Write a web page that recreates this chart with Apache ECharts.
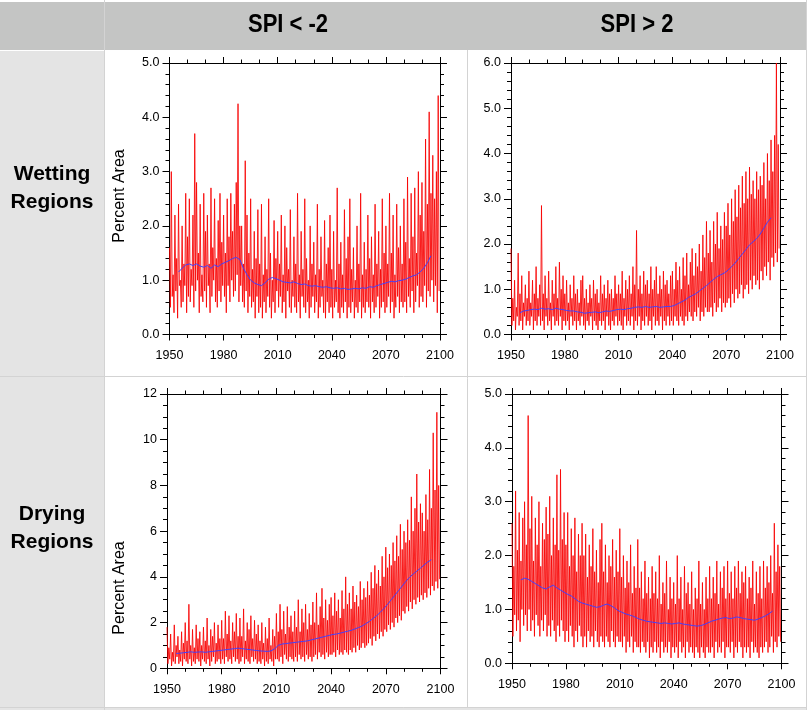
<!DOCTYPE html>
<html>
<head>
<meta charset="utf-8">
<script src="https://cdn.jsdelivr.net/npm/echarts@6/dist/echarts.min.js"></script>
<style>
html,body{margin:0;padding:0;background:#fff;}
#c{width:807px;height:710px;}
</style>
</head>
<body>
<div id="c"></div>
<script>
// ---------------- DATA ----------------
const columnTitles = ['SPI < -2', 'SPI > 2'];
const rowTitles = ['Wetting\nRegions', 'Drying\nRegions'];
const yTitle = 'Percent Area';
const xTicks = [1950, 1980, 2010, 2040, 2070, 2100];
const redStart = 1950, redStep = 0.5;   // semi-annual samples
const meanStart = 1955, meanStep = 2;   // running-mean samples

// Wetting regions, SPI < -2 (percent area)
const wetDryRed = [
1.6,0.5,3.0,0.7,1.1,0.4,2.2,0.8,1.4,0.3,2.4,0.9,1.0,0.5,2.0,0.6,1.3,0.9,2.6,0.4,
1.8,0.7,2.5,0.6,1.2,0.9,2.2,0.5,3.7,0.8,2.8,1.0,1.5,0.4,2.4,0.7,1.1,0.6,2.6,0.8,
1.9,0.5,2.2,0.9,1.3,0.4,2.7,0.7,1.6,1.0,2.5,0.6,1.4,0.5,2.1,0.8,2.6,0.6,1.7,0.9,
2.2,0.7,1.5,0.4,2.5,0.9,1.8,0.6,2.6,1.0,1.9,0.7,2.4,0.8,2.8,1.1,4.25,0.6,2.0,0.9,
2.0,0.6,1.3,0.5,3.2,0.8,2.2,0.4,1.5,0.7,2.5,0.5,1.2,0.6,1.9,0.3,1.4,0.7,2.3,0.4,
1.3,0.5,2.4,0.3,1.1,0.6,1.8,0.4,1.2,0.7,2.5,0.5,1.5,0.3,1.0,0.6,2.1,0.4,1.4,0.8,
1.9,0.5,1.3,0.7,2.2,0.4,1.1,0.6,2.0,0.3,1.6,0.8,1.2,0.5,2.3,0.4,1.0,0.7,1.8,0.5,
1.3,0.4,2.6,0.6,1.1,0.3,1.9,0.7,1.2,0.5,2.5,0.4,1.4,0.6,1.0,0.3,2.0,0.5,1.3,0.7,
1.7,0.4,1.1,0.6,2.4,0.3,1.2,0.5,1.8,0.7,1.0,0.4,2.1,0.3,1.3,0.6,1.6,0.4,2.2,0.5,
1.2,0.3,1.9,0.5,1.0,0.6,2.7,0.4,1.3,0.3,1.7,0.5,1.1,0.4,2.3,0.6,1.4,0.3,1.8,0.5,
2.5,0.4,1.2,0.6,1.6,0.3,1.0,0.5,2.0,0.4,1.3,0.6,2.6,0.3,1.1,0.5,1.7,0.4,1.2,0.6,
2.2,0.5,1.4,0.3,1.8,0.6,1.1,0.4,2.4,0.5,1.3,0.7,1.9,0.3,1.2,0.5,2.5,0.6,1.5,0.4,
2.0,0.5,1.3,0.7,2.6,0.4,1.5,0.6,2.2,0.3,1.1,0.5,2.4,0.7,1.6,0.4,2.0,0.6,1.3,0.5,
2.5,0.6,1.7,0.4,2.9,0.7,1.4,0.5,2.6,0.8,1.8,0.4,2.7,0.6,1.5,0.9,3.0,0.5,2.2,0.7,
2.8,0.6,1.9,0.9,3.6,0.5,2.4,0.8,4.1,0.7,2.6,1.0,3.3,0.6,2.5,0.9,3.0,0.4,4.4,0.8
];
const wetDryMean = [
1.15,1.22,1.28,1.30,1.27,1.30,1.26,1.24,1.27,1.22,1.28,1.25,1.30,1.33,1.36,1.40,1.42,1.38,
1.22,1.10,1.00,0.95,0.92,0.90,0.95,1.02,1.05,1.03,1.00,0.97,0.96,0.95,0.97,0.94,0.92,0.93,
0.90,0.89,0.90,0.88,0.87,0.88,0.86,0.85,0.86,0.84,0.85,0.83,0.84,0.85,0.84,0.86,0.85,0.88,
0.87,0.90,0.92,0.94,0.96,0.98,0.97,0.99,1.00,1.02,1.05,1.08,1.10,1.15,1.22,1.32,1.45
];

// Wetting regions, SPI > 2
const wetWetRed = [
1.9,0.2,0.8,0.3,1.2,0.1,0.6,0.4,1.8,0.2,0.9,0.3,1.3,0.1,0.7,0.4,1.1,0.2,0.8,0.3,
1.4,0.2,0.7,0.4,1.2,0.1,0.9,0.3,1.5,0.2,0.8,0.4,1.1,0.2,2.85,0.3,0.9,0.1,1.3,0.4,
0.8,0.2,1.4,0.3,0.7,0.1,1.2,0.4,0.9,0.2,1.5,0.3,0.8,0.2,1.6,0.4,1.0,0.1,1.3,0.3,
0.9,0.2,1.2,0.3,0.7,0.1,1.1,0.4,0.8,0.2,1.3,0.3,0.9,0.1,1.0,0.3,0.7,0.2,1.2,0.4,
1.3,0.2,0.8,0.1,1.0,0.3,0.7,0.2,1.1,0.4,0.8,0.1,1.2,0.3,0.9,0.2,1.0,0.1,0.7,0.3,
1.3,0.2,0.9,0.3,1.1,0.1,0.8,0.4,1.2,0.2,0.9,0.1,1.0,0.3,0.8,0.2,1.3,0.4,0.9,0.2,
1.1,0.3,0.9,0.2,1.4,0.1,0.8,0.4,1.2,0.2,1.0,0.3,1.3,0.2,0.9,0.4,1.5,0.1,1.1,0.3,
2.3,0.2,1.0,0.4,1.3,0.1,0.9,0.3,1.4,0.2,1.1,0.4,1.2,0.2,0.9,0.3,1.5,0.1,1.0,0.4,
1.2,0.2,1.5,0.3,0.9,0.2,1.3,0.4,1.0,0.1,1.4,0.3,1.1,0.2,1.2,0.4,0.9,0.2,1.3,0.3,
1.4,0.2,1.0,0.4,1.6,0.3,1.2,0.2,1.5,0.4,1.0,0.3,1.7,0.2,1.3,0.4,1.8,0.3,1.1,0.5,
1.6,0.4,1.9,0.3,1.3,0.5,1.8,0.4,1.5,0.6,2.0,0.3,1.4,0.5,2.2,0.4,1.7,0.6,2.5,0.5,
1.8,0.5,2.3,0.6,1.6,0.4,2.5,0.7,2.0,0.5,2.7,0.6,1.9,0.8,2.4,0.5,2.1,0.7,2.7,0.6,
2.4,0.7,2.9,0.8,2.2,0.6,3.0,0.9,2.5,0.7,3.2,1.0,2.6,0.8,3.3,0.9,2.8,1.1,3.5,0.8,
2.9,1.0,3.6,1.1,3.0,0.9,3.7,1.2,3.1,1.0,3.4,1.3,3.0,1.1,3.6,1.2,3.2,1.0,3.5,1.4,
3.3,1.2,3.8,1.5,3.0,1.3,4.0,1.6,3.4,1.2,4.3,1.7,3.6,1.5,4.4,1.8,6.0,1.6,4.2,1.9
];
const wetWetMean = [
0.48,0.52,0.53,0.55,0.56,0.55,0.58,0.56,0.57,0.55,0.58,0.56,0.55,0.53,0.52,0.52,0.50,0.49,
0.47,0.48,0.49,0.50,0.48,0.50,0.52,0.51,0.53,0.55,0.56,0.55,0.57,0.58,0.60,0.61,0.60,0.62,
0.60,0.61,0.62,0.60,0.61,0.62,0.62,0.64,0.68,0.72,0.76,0.82,0.86,0.90,0.96,1.02,1.08,1.15,
1.22,1.28,1.32,1.36,1.42,1.50,1.58,1.68,1.78,1.88,1.98,2.05,2.12,2.22,2.35,2.48,2.58
];

// Drying regions, SPI < -2
const dryDryRed = [
1.8,0.2,0.9,0.4,1.5,0.1,0.7,0.3,1.9,0.2,1.0,0.5,1.4,0.2,0.8,0.3,1.6,0.1,1.1,0.4,
2.0,0.3,1.2,0.2,2.8,0.4,1.0,0.1,1.7,0.3,0.9,0.2,1.9,0.4,1.3,0.3,1.6,0.1,1.0,0.4,
1.8,0.3,1.2,0.2,2.2,0.4,1.0,0.1,1.7,0.3,1.4,0.5,2.0,0.2,1.1,0.3,1.9,0.4,1.3,0.2,
2.1,0.4,1.3,0.2,2.5,0.5,1.5,0.3,2.3,0.4,1.2,0.2,2.0,0.5,1.6,0.3,2.4,0.4,1.4,0.2,
2.2,0.3,1.4,0.5,2.6,0.2,1.2,0.4,2.0,0.3,1.7,0.2,2.3,0.5,1.3,0.3,2.1,0.4,1.5,0.2,
1.9,0.3,1.2,0.2,2.0,0.4,1.1,0.1,1.8,0.3,1.3,0.2,2.2,0.4,1.0,0.3,1.7,0.1,1.4,0.4,
2.4,0.4,1.6,0.3,2.8,0.5,1.7,0.2,2.5,0.6,1.5,0.4,2.7,0.3,1.8,0.5,2.3,0.4,1.6,0.3,
2.5,0.5,1.8,0.3,3.0,0.6,1.6,0.4,2.6,0.5,2.0,0.3,2.8,0.6,1.7,0.4,2.4,0.5,1.9,0.3,
2.9,0.5,2.0,0.6,3.3,0.4,1.9,0.7,2.7,0.5,3.5,0.6,2.2,0.4,3.0,0.7,2.1,0.5,2.8,0.6,
3.1,0.6,2.3,0.7,3.3,0.5,2.5,0.8,3.0,0.6,2.2,0.7,3.4,0.6,2.6,0.8,4.0,0.7,2.8,0.6,
3.3,0.8,2.6,0.7,3.6,0.9,2.9,0.7,3.2,1.0,2.7,0.8,3.8,0.9,3.0,1.1,3.5,0.9,3.1,1.0,
3.8,1.1,3.2,1.3,4.2,1.0,3.5,1.4,4.5,1.2,3.7,1.5,4.3,1.3,3.6,1.6,4.9,1.4,4.0,1.7,
5.3,1.6,4.4,1.9,5.0,1.7,4.5,2.0,5.5,1.8,4.7,2.2,5.8,2.0,4.9,2.3,6.3,2.1,5.2,2.5,
6.0,2.4,5.5,2.7,6.5,2.5,5.6,2.9,7.5,2.6,6.0,3.0,7.0,2.8,8.5,3.1,6.4,2.9,7.2,3.2,
6.8,3.0,6.0,3.3,7.6,3.1,6.5,3.5,8.7,3.2,7.0,3.6,10.3,3.4,7.8,3.8,11.2,3.5,8.0,3.9
];
const dryDryMean = [
0.65,0.66,0.68,0.70,0.72,0.70,0.71,0.72,0.70,0.72,0.74,0.76,0.78,0.80,0.82,0.84,0.86,0.88,
0.86,0.84,0.82,0.80,0.78,0.76,0.75,0.74,0.76,0.85,1.00,1.06,1.08,1.10,1.12,1.14,1.16,1.18,
1.20,1.24,1.28,1.32,1.36,1.40,1.44,1.48,1.50,1.54,1.58,1.62,1.66,1.72,1.78,1.85,1.95,2.05,
2.18,2.30,2.45,2.62,2.80,3.00,3.20,3.40,3.60,3.80,3.98,4.12,4.25,4.38,4.52,4.65,4.75
];

// Drying regions, SPI > 2
const dryWetRed = [
2.6,0.5,1.8,0.9,3.2,0.6,2.1,0.8,2.8,0.4,1.9,1.0,2.7,0.7,3.0,0.9,2.2,0.6,4.6,1.0,
2.5,0.6,3.1,0.8,1.9,0.5,2.7,0.9,2.2,0.7,3.0,0.5,1.8,0.8,2.6,0.6,2.3,0.9,2.9,0.5,
2.4,0.7,3.1,0.5,2.0,0.8,2.7,0.6,2.2,0.4,3.5,0.7,2.1,0.5,3.6,0.8,2.3,0.6,2.8,0.4,
2.2,0.6,2.8,0.4,1.8,0.7,2.5,0.5,2.0,0.3,2.7,0.6,1.7,0.4,2.4,0.7,2.0,0.5,2.6,0.3,
2.0,0.5,2.4,0.3,1.6,0.6,2.2,0.4,1.8,0.5,2.5,0.3,1.7,0.6,2.1,0.4,1.5,0.3,2.3,0.5,
2.6,0.4,1.7,0.3,2.2,0.5,1.5,0.4,2.0,0.3,1.8,0.6,2.3,0.4,1.6,0.3,2.1,0.5,1.7,0.4,
2.5,0.4,1.6,0.3,2.0,0.5,1.4,0.2,1.9,0.4,1.5,0.3,2.2,0.5,1.3,0.2,1.8,0.4,1.4,0.3,
2.3,0.3,1.4,0.2,1.7,0.4,1.2,0.3,1.9,0.2,1.3,0.4,1.6,0.1,1.2,0.3,1.8,0.2,1.3,0.4,
1.7,0.2,1.2,0.3,2.0,0.1,1.1,0.4,1.5,0.2,1.3,0.3,1.9,0.2,1.0,0.4,1.6,0.1,1.2,0.3,
1.5,0.2,1.1,0.3,2.0,0.1,1.2,0.4,1.6,0.2,1.0,0.3,1.8,0.1,1.3,0.4,1.5,0.2,1.1,0.3,
1.7,0.2,1.0,0.1,1.4,0.3,1.2,0.2,1.9,0.1,1.1,0.3,1.5,0.2,1.0,0.1,1.6,0.3,1.2,0.2,
1.8,0.2,1.2,0.3,1.6,0.1,1.3,0.4,1.9,0.2,1.1,0.3,1.7,0.2,1.4,0.4,1.8,0.1,1.2,0.3,
1.9,0.3,1.3,0.2,1.7,0.4,1.2,0.1,1.8,0.3,1.4,0.2,1.9,0.4,1.3,0.3,1.7,0.1,1.5,0.3,
1.8,0.2,1.2,0.3,1.6,0.1,1.4,0.4,1.9,0.2,1.1,0.3,1.7,0.2,1.3,0.1,1.8,0.3,1.2,0.2,
1.9,0.3,1.4,0.4,1.8,0.2,1.5,0.3,2.0,0.5,1.3,0.2,2.6,0.4,1.7,0.3,2.2,0.5,1.8,0.4
];
const dryWetMean = [
1.55,1.58,1.56,1.52,1.48,1.44,1.40,1.38,1.42,1.45,1.40,1.36,1.32,1.28,1.25,1.20,1.15,1.12,
1.10,1.08,1.06,1.04,1.05,1.08,1.10,1.07,1.03,0.98,0.95,0.92,0.90,0.88,0.85,0.82,0.80,0.78,
0.77,0.76,0.75,0.74,0.75,0.74,0.73,0.74,0.75,0.73,0.72,0.71,0.70,0.69,0.70,0.72,0.75,0.78,
0.80,0.82,0.84,0.85,0.83,0.84,0.86,0.85,0.83,0.82,0.81,0.80,0.82,0.85,0.88,0.92,0.97
];

// y-axis ranges per panel
const yMax = [5, 6, 12, 5];
const yStep = [1, 1, 2, 1];
const yMinor = [5, 5, 4, 5];
const yDecimals = [1, 1, 0, 1];

// ---------------- LAYOUT ----------------
const FONT = '"Liberation Sans", Arial, Helvetica, sans-serif';
const panels = [
  {red: wetDryRed, mean: wetDryMean, left: 169.5, top: 63, width: 270.5, height: 271.5, titleAt: [120, 196]},
  {red: wetWetRed, mean: wetWetMean, left: 511, top: 63, width: 269, height: 271.5, titleAt: null},
  {red: dryDryRed, mean: dryDryMean, left: 167, top: 394, width: 273.5, height: 274.3, titleAt: [120, 588]},
  {red: dryWetRed, mean: dryWetMean, left: 512, top: 394, width: 269.5, height: 269.3, titleAt: null}
];

function toPairs(start, step, vals) { return vals.map((v, i) => [start + i * step, v]); }

const grids = [], xAxes = [], yAxes = [], series = [];
panels.forEach((p, k) => {
  grids.push({left: p.left, top: p.top, width: p.width, height: p.height, containLabel: false});
  const tickStyle = {color: '#000', width: 1};
  ['bottom', 'top'].forEach((pos, j) => {
    xAxes.push({
      type: 'value', gridIndex: k, position: pos, min: xTicks[0], max: xTicks[xTicks.length - 1],
      interval: xTicks[1] - xTicks[0],
      axisLine: {show: true, onZero: false, lineStyle: tickStyle},
      axisTick: {show: true, inside: false, length: 6, lineStyle: tickStyle},
      minorTick: {show: true, splitNumber: 3, length: 3.5, lineStyle: tickStyle},
      splitLine: {show: false}, minorSplitLine: {show: false},
      axisLabel: {show: j === 0, color: '#000', fontSize: 12.5, fontFamily: FONT, margin: 15,
        formatter: v => String(Math.round(v))}
    });
  });
  ['left', 'right'].forEach((pos, j) => {
    yAxes.push({
      type: 'value', gridIndex: k, position: pos, min: 0, max: yMax[k], interval: yStep[k],
      axisLine: {show: true, onZero: false, lineStyle: tickStyle},
      axisTick: {show: true, inside: false, length: 7, lineStyle: tickStyle},
      minorTick: {show: true, splitNumber: yMinor[k], length: 4, lineStyle: tickStyle},
      splitLine: {show: false}, minorSplitLine: {show: false},
      axisLabel: {show: j === 0, color: '#000', fontSize: 12.5, fontFamily: FONT, margin: 10,
        formatter: v => v.toFixed(yDecimals[k])}
    });
  });
  series.push({
    type: 'line', xAxisIndex: 2 * k, yAxisIndex: 2 * k, data: toPairs(redStart, redStep, p.red),
    showSymbol: false, symbol: 'none', silent: true, sampling: null,
    lineStyle: {color: '#f80000', width: 0.85}, z: 2
  });
  series.push({
    type: 'line', xAxisIndex: 2 * k, yAxisIndex: 2 * k, data: toPairs(meanStart, meanStep, p.mean),
    showSymbol: false, symbol: 'none', silent: true,
    lineStyle: {color: '#4040ff', width: 1}, z: 3
  });
});

// table backgrounds, borders and titles
const LINE = '#d3d3d3';
const graphic = [
  {type: 'rect', shape: {x: 0, y: 0, width: 807, height: 710}, style: {fill: '#ffffff'}, z: -10},
  {type: 'rect', shape: {x: 0, y: 2, width: 807, height: 48}, style: {fill: '#c4c5c4'}, z: -9},
  {type: 'rect', shape: {x: 0, y: 51, width: 104, height: 656}, style: {fill: '#e4e4e4'}, z: -9},
  {type: 'rect', shape: {x: 0, y: 707, width: 807, height: 3}, style: {fill: '#e4e4e4'}, z: -9},
  {type: 'line', shape: {x1: 104.5, y1: 0, x2: 104.5, y2: 710}, style: {stroke: LINE, lineWidth: 1}, z: -8},
  {type: 'line', shape: {x1: 467.5, y1: 50, x2: 467.5, y2: 707}, style: {stroke: LINE, lineWidth: 1}, z: -8},
  {type: 'line', shape: {x1: 0, y1: 376.5, x2: 807, y2: 376.5}, style: {stroke: LINE, lineWidth: 1}, z: -8},
  {type: 'line', shape: {x1: 0, y1: 707.5, x2: 807, y2: 707.5}, style: {stroke: LINE, lineWidth: 1}, z: -8},
  {type: 'line', shape: {x1: 806.5, y1: 0, x2: 806.5, y2: 710}, style: {stroke: LINE, lineWidth: 1}, z: -8}
];
const colCenters = [288, 637];
columnTitles.forEach((t, i) => graphic.push({
  type: 'text', x: colCenters[i], y: 25, z: 5, scaleY: 1.18,
  style: {text: t, font: 'bold 22px ' + FONT, fill: '#000', textAlign: 'center', textVerticalAlign: 'middle', align: 'center', verticalAlign: 'middle'}
}));
const rowCenters = [188, 528];
rowTitles.forEach((t, i) => graphic.push({
  type: 'text', x: 52, y: rowCenters[i], z: 5,
  style: {text: t, font: 'bold 21px ' + FONT, lineHeight: 28, fill: '#000', textAlign: 'center', textVerticalAlign: 'middle', align: 'center', verticalAlign: 'middle'}
}));
panels.forEach(p => {
  if (!p.titleAt) return;
  graphic.push({
    type: 'text', x: p.titleAt[0], y: p.titleAt[1], rotation: Math.PI / 2, z: 5,
    style: {text: yTitle, font: '16px ' + FONT, fill: '#000', textAlign: 'center', textVerticalAlign: 'middle', align: 'center', verticalAlign: 'middle'}
  });
});

const chart = echarts.init(document.getElementById('c'), null, {renderer: 'canvas'});
chart.setOption({
  animation: false,
  backgroundColor: '#ffffff',
  grid: grids, xAxis: xAxes, yAxis: yAxes, series: series,
  graphic: graphic
});
</script>
</body>
</html>
